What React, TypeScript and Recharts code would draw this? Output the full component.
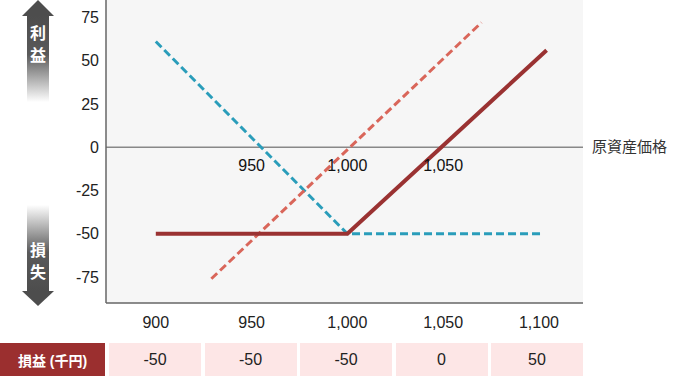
import React from 'react';
import { LineChart, Line, XAxis, YAxis, CartesianGrid, ReferenceLine, ReferenceDot } from 'recharts';

const priceTicks = [900, 950, 1000, 1050, 1100];
const pnlTicks = [-75, -50, -25, 0, 25, 50, 75];
const midLabels = [950, 1000, 1050];
const tableValues = [-50, -50, -50, 0, 50];

const solidX = [900, 1000, 1104];
const solidY = [-50, -50, 56];
const blueX = [900, 1000, 1102];
const blueY = [61, -50, -50];
const salmonX = [929, 1070];
const salmonY = [-76, 72];

const toPts = (xs: number[], ys: number[]) => xs.map((x, i) => ({ x, y: ys[i] }));
const solidData = toPts(solidX, solidY);
const blueData = toPts(blueX, blueY);
const salmonData = toPts(salmonX, salmonY);

const FONT = "'Liberation Sans', Arial, 'Noto Sans CJK JP', sans-serif";
const fmt = (v: number) => v.toLocaleString('en-US');

function Arrow() {
  return (
    <svg width={80} height={310} style={{ position: 'absolute', left: 0, top: 0 }}>
      <defs>
        <linearGradient id="gTop" x1="0" y1="0" x2="0" y2="1">
          <stop offset="0" stopColor="#4d4d4d" />
          <stop offset="0.45" stopColor="#5a5a5a" />
          <stop offset="1" stopColor="#ffffff" />
        </linearGradient>
        <linearGradient id="gBot" x1="0" y1="0" x2="0" y2="1">
          <stop offset="0" stopColor="#ffffff" />
          <stop offset="0.55" stopColor="#5a5a5a" />
          <stop offset="1" stopColor="#4d4d4d" />
        </linearGradient>
      </defs>
      <polygon points="38,0 22,16 54,16" fill="#4d4d4d" />
      <rect x={27} y={16} width={22} height={86} fill="url(#gTop)" />
      <rect x={27} y={205} width={22} height={86} fill="url(#gBot)" />
      <polygon points="22,291 54,291 38,306" fill="#4d4d4d" />
      <text x={38} y={39} fill="#fff" fontSize={16} fontWeight="bold" textAnchor="middle" fontFamily={FONT}>利</text>
      <text x={38} y={61} fill="#fff" fontSize={16} fontWeight="bold" textAnchor="middle" fontFamily={FONT}>益</text>
      <text x={38} y={256} fill="#fff" fontSize={16} fontWeight="bold" textAnchor="middle" fontFamily={FONT}>損</text>
      <text x={38} y={278} fill="#fff" fontSize={16} fontWeight="bold" textAnchor="middle" fontFamily={FONT}>失</text>
    </svg>
  );
}

export default function App() {
  return (
    <div style={{ position: 'absolute', left: 0, top: 0, width: 685, height: 376, background: '#fff', fontFamily: FONT }}>
      <LineChart width={685} height={376} margin={{ top: 0, right: 102, left: 46, bottom: 43 }}>
        <CartesianGrid horizontal={false} vertical={false} fill="#f6f6f6" />
        <XAxis
          type="number"
          dataKey="x"
          domain={[874, 1123]}
          ticks={priceTicks}
          tickFormatter={fmt}
          allowDataOverflow
          height={30}
          tickLine={false}
          tickSize={0}
          tickMargin={14}
          axisLine={{ stroke: '#666', strokeWidth: 1.5 }}
          tick={{ fill: '#222', fontSize: 16, fontFamily: FONT }}
        />
        <YAxis
          type="number"
          dataKey="y"
          domain={[-90, 85]}
          ticks={pnlTicks}
          allowDataOverflow
          width={60}
          tickLine={false}
          tickSize={0}
          tickMargin={7}
          axisLine={{ stroke: '#666', strokeWidth: 1.5 }}
          tick={{ fill: '#222', fontSize: 16, fontFamily: FONT }}
        />
        <ReferenceLine
          y={0}
          stroke="#888"
          strokeWidth={1.5}
          label={{ value: '原資産価格', position: 'right', offset: 9, fill: '#333', fontSize: 15, fontFamily: FONT }}
        />
        <Line data={blueData} dataKey="y" stroke="#2a9dba" strokeWidth={3} strokeDasharray="8 4" dot={false} isAnimationActive={false} />
        <Line data={salmonData} dataKey="y" stroke="#d9665a" strokeWidth={3} strokeDasharray="8 4" dot={false} isAnimationActive={false} />
        <Line data={solidData} dataKey="y" stroke="#9a3232" strokeWidth={4} dot={false} isAnimationActive={false} />
        {midLabels.map((v) => (
          <ReferenceDot
            key={v}
            x={v}
            y={0}
            r={0}
            fill="none"
            stroke="none"
            label={{ value: fmt(v), position: 'bottom', offset: 12, fill: '#111', fontSize: 16, fontFamily: FONT }}
          />
        ))}
      </LineChart>
      <Arrow />
      <div style={{ position: 'absolute', left: 0, top: 343, height: 33, display: 'flex' }}>
        <div style={{ width: 105, height: 33, background: '#9b2f2f', color: '#fff', fontWeight: 'bold', fontSize: 14, display: 'flex', alignItems: 'center', justifyContent: 'center' }}>
          損益 (千円)
        </div>
        {tableValues.map((v, i) => (
          <div key={i} style={{ width: 92, marginLeft: i === 0 ? 4 : 3.5, height: 33, background: '#fde6e6', color: '#222', fontSize: 16, display: 'flex', alignItems: 'center', justifyContent: 'center' }}>
            {v}
          </div>
        ))}
      </div>
    </div>
  );
}
